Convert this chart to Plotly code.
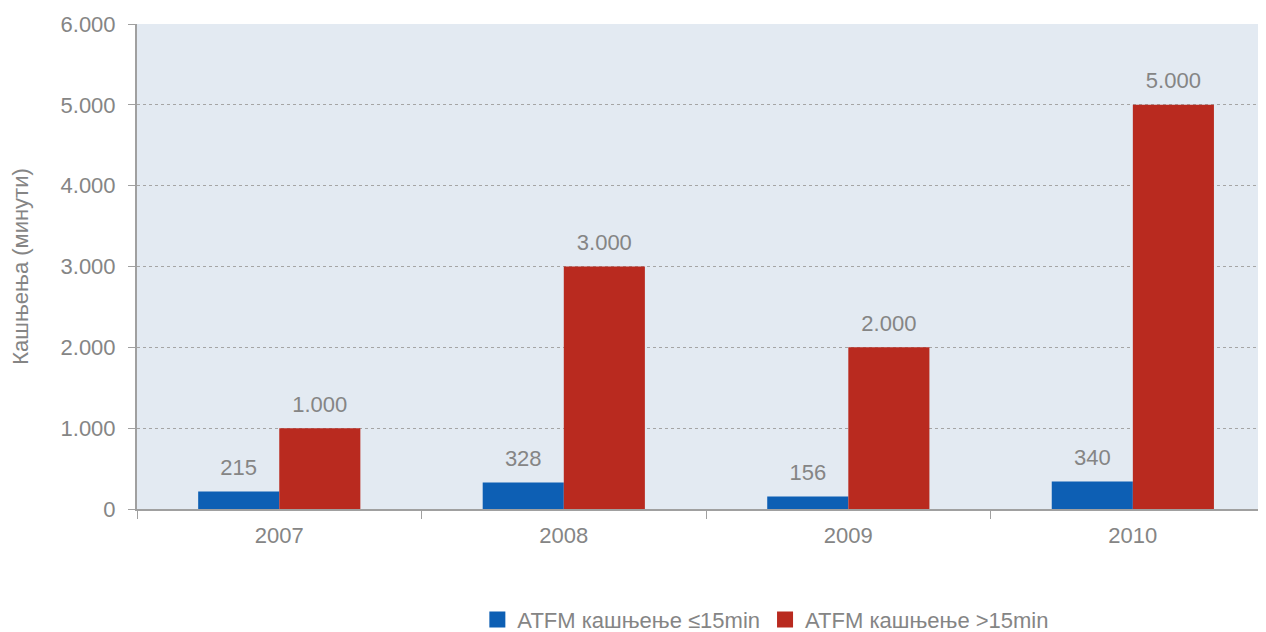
import plotly.graph_objects as go

# podaci
godine = ["2007", "2008", "2009", "2010"]
kasnjenje_do15 = [215, 328, 156, 340]
kasnjenje_preko15 = [1000, 3000, 2000, 5000]
naziv_do15 = "ATFM кашњење ≤15min"
naziv_preko15 = "ATFM кашњење >15min"

siva = "#858585"
plava = "#0d5fb4"
crvena = "#b92a1f"

fig = go.Figure()
serije = [(naziv_do15, kasnjenje_do15, plava, "a"), (naziv_preko15, kasnjenje_preko15, crvena, "b")]
for naziv, vrijednosti, boja, grupa in serije:
    fig.add_trace(go.Bar(
        x=godine, y=vrijednosti, name=naziv, showlegend=False,
        marker=dict(color=boja, line=dict(width=0)),
        offsetgroup=grupa, alignmentgroup="g",
    ))
# brojevi iznad stupaca (nevidljivi markeri daju razmak)
for naziv, vrijednosti, boja, grupa in serije:
    fig.add_trace(go.Scatter(
        x=godine, y=vrijednosti, mode="markers+text", showlegend=False,
        text=[f"{v:,d}".replace(",", ".") for v in vrijednosti],
        textposition="top center", textfont=dict(size=22, color=siva),
        marker=dict(size=16, opacity=0), hoverinfo="skip",
        offsetgroup=grupa, alignmentgroup="g", cliponaxis=False,
    ))
# legenda sa vecim kvadratima
for naziv, _, boja, _ in serije:
    fig.add_trace(go.Scatter(
        x=[None], y=[None], mode="markers", name=naziv,
        marker=dict(symbol="square", size=22, color=boja),
    ))

# stranica ima 8px margine u pregledniku, pa je sve pomaknuto za 8px
fig.update_layout(
    width=1258, height=624,
    margin=dict(l=129, r=0, t=16, b=123, autoexpand=False),
    paper_bgcolor="white", plot_bgcolor="#e3eaf2",
    font=dict(family="Liberation Sans, Arial, sans-serif", size=22, color=siva),
    separators=",.",
    barmode="group", bargap=0.43, bargroupgap=0,
    scattermode="group", scattergap=0.43,
    legend=dict(orientation="h", x=0.557, xanchor="center", y=-0.228, yanchor="middle",
                font=dict(size=22, color=siva), itemsizing="trace"),
)
# zadnja kategorija je u originalu odrezana na desnom rubu
fig.update_xaxes(
    type="category", range=[-0.5, 3.468],
    showline=True, linecolor="#a0a0a0", linewidth=2,
    ticks="outside", tickson="boundaries", ticklen=8, tickcolor="#a0a0a0",
    ticklabelstandoff=6, showgrid=False, automargin=False,
)
fig.update_yaxes(
    range=[0, 6000], dtick=1000, tickformat=",d",
    showline=True, linecolor="#a0a0a0", linewidth=2,
    ticks="outside", ticklen=7, tickcolor="#a0a0a0", ticklabelstandoff=8,
    showgrid=True, gridcolor="#a5a5a5", griddash="dot", gridwidth=1,
    zeroline=False, automargin=False,
    title=dict(text="Кашњења (минути)", font=dict(size=22, color=siva), standoff=36),
)

fig.write_html("out.html")
